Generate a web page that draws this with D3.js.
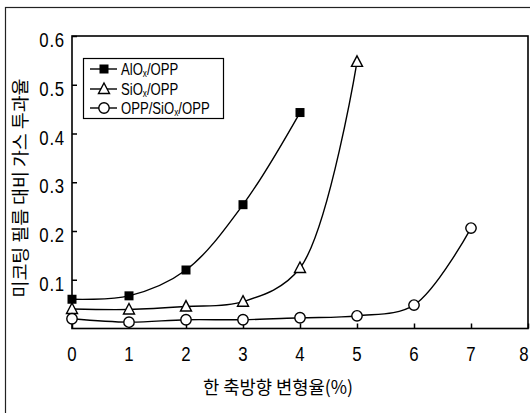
<!DOCTYPE html>
<html><head><meta charset="utf-8">
<script src="https://cdn.jsdelivr.net/npm/d3@7"></script>
<style>body{margin:0;background:#fff;} svg{display:block;}</style>
</head><body>
<svg id="c" width="530" height="413"></svg>
<script>
const strain = [0,1,2,3,4,5,6,7];
const alox = [0.060,0.067,0.120,0.254,0.443];
const siox = [0.040,0.039,0.045,0.055,0.124,0.547];
const oppSioxOpp = [0.020,0.013,0.018,0.018,0.022,0.026,0.048,0.206];
const xTicks = [0,1,2,3,4,5,6,7,8];
const yTicks = [0.1,0.2,0.3,0.4,0.5,0.6];
const seriesNames = ["AlO","SiO","OPP/SiO"];

const svg = d3.select("#c");
const numFont = "'Liberation Sans',Arial,sans-serif";
const krFont = "'Noto Sans CJK KR',sans-serif";

// outer frame
svg.append("rect").attr("x",5.5).attr("y",7.5).attr("width",560).attr("height",430)
  .attr("fill","none").attr("stroke","#222").attr("stroke-width",1.2);

const x = d3.scaleLinear().domain([0,8]).range([72,528]);
const y = d3.scaleLinear().domain([0,0.6]).range([328.5,36]);

// plot frame
svg.append("rect").attr("x",x(0)).attr("y",y(0.6)).attr("width",x(8)-x(0)).attr("height",y(0)-y(0.6))
  .attr("fill","none").attr("stroke","#000").attr("stroke-width",1.6);

// axes with inward ticks
const gx = svg.append("g").attr("transform",`translate(0,${y(0)})`)
  .call(d3.axisTop(x).tickValues(xTicks).tickSize(5).tickFormat(""));
gx.select(".domain").remove();
gx.selectAll("line").attr("stroke","#000").attr("stroke-width",1.5);
const gy = svg.append("g").attr("transform",`translate(${x(0)},0)`)
  .call(d3.axisRight(y).tickValues(yTicks).tickSize(5).tickFormat(""));
gy.select(".domain").remove();
gy.selectAll("line").attr("stroke","#000").attr("stroke-width",1.5);

// tick labels (condensed look)
svg.append("g").selectAll("g").data(xTicks).join("g")
  .attr("transform",d=>`translate(${Math.min(x(d),524)},361) scale(0.8,1)`)
  .append("text").attr("text-anchor","middle")
  .attr("font-family",numFont).attr("font-size",21).text(d=>d);
svg.append("g").selectAll("g").data(yTicks).join("g")
  .attr("transform",d=>`translate(65,${y(d)+11}) scale(0.8,1)`)
  .append("text").attr("text-anchor","end").attr("letter-spacing",1)
  .attr("font-family",numFont).attr("font-size",21).text(d=>d.toFixed(1));

// axis titles
svg.append("text").attr("x",278).attr("y",394).attr("text-anchor","middle")
  .attr("font-family",krFont).attr("font-size",18)
  .attr("textLength",150).attr("lengthAdjust","spacingAndGlyphs").text("한 축방향 변형율(%)");
svg.append("text").attr("transform","translate(27,188) rotate(-90)").attr("text-anchor","middle")
  .attr("font-family",krFont).attr("font-size",18)
  .attr("textLength",219).attr("lengthAdjust","spacingAndGlyphs").text("미코팅 필름 대비 가스 투과율");

const line = d3.line().x(d=>x(d[0])).y(d=>y(d[1])).curve(d3.curveCatmullRom.alpha(0.5));
const datasets = [alox, siox, oppSioxOpp].map(arr=>arr.map((v,i)=>[strain[i],v]));
datasets.forEach(ds=>{
  svg.append("path").datum(ds).attr("d",line).attr("fill","none").attr("stroke","#000").attr("stroke-width",1.4);
});

function marker(g, type, cx, cy){
  if(type===0){
    g.append("rect").attr("x",cx-4.5).attr("y",cy-4.5).attr("width",9).attr("height",9).attr("fill","#000");
  } else if(type===1){
    g.append("path").attr("d",`M${cx},${cy-6}L${cx+5.5},${cy+4.5}L${cx-5.5},${cy+4.5}Z`)
      .attr("fill","#fff").attr("stroke","#000").attr("stroke-width",1.4);
  } else {
    g.append("circle").attr("cx",cx).attr("cy",cy).attr("r",5.2)
      .attr("fill","#fff").attr("stroke","#000").attr("stroke-width",1.4);
  }
}
const mg = svg.append("g");
datasets.forEach((ds,k)=>ds.forEach(d=>marker(mg,k,x(d[0]),y(d[1]))));

// legend
const lg = svg.append("g");
lg.append("rect").attr("x",83.5).attr("y",58.5).attr("width",140).attr("height",60)
  .attr("fill","#fff").attr("stroke","#000").attr("stroke-width",1.2);
const rows = [69,89,108];
const suffixes = ["/OPP","/OPP","/OPP"];
rows.forEach((ry,k)=>{
  lg.append("line").attr("x1",90).attr("x2",117).attr("y1",ry).attr("y2",ry).attr("stroke","#000").attr("stroke-width",1.4);
  marker(lg,k,104,ry);
  const t = lg.append("g").attr("transform",`translate(121,${ry+6}) scale(0.82,1)`)
    .append("text").attr("font-family",numFont).attr("font-size",16);
  t.append("tspan").text(seriesNames[k]);
  t.append("tspan").attr("font-size",10).attr("dy",2).text("x");
  t.append("tspan").attr("dy",-2).text(suffixes[k]);
});
</script>
</body></html>
